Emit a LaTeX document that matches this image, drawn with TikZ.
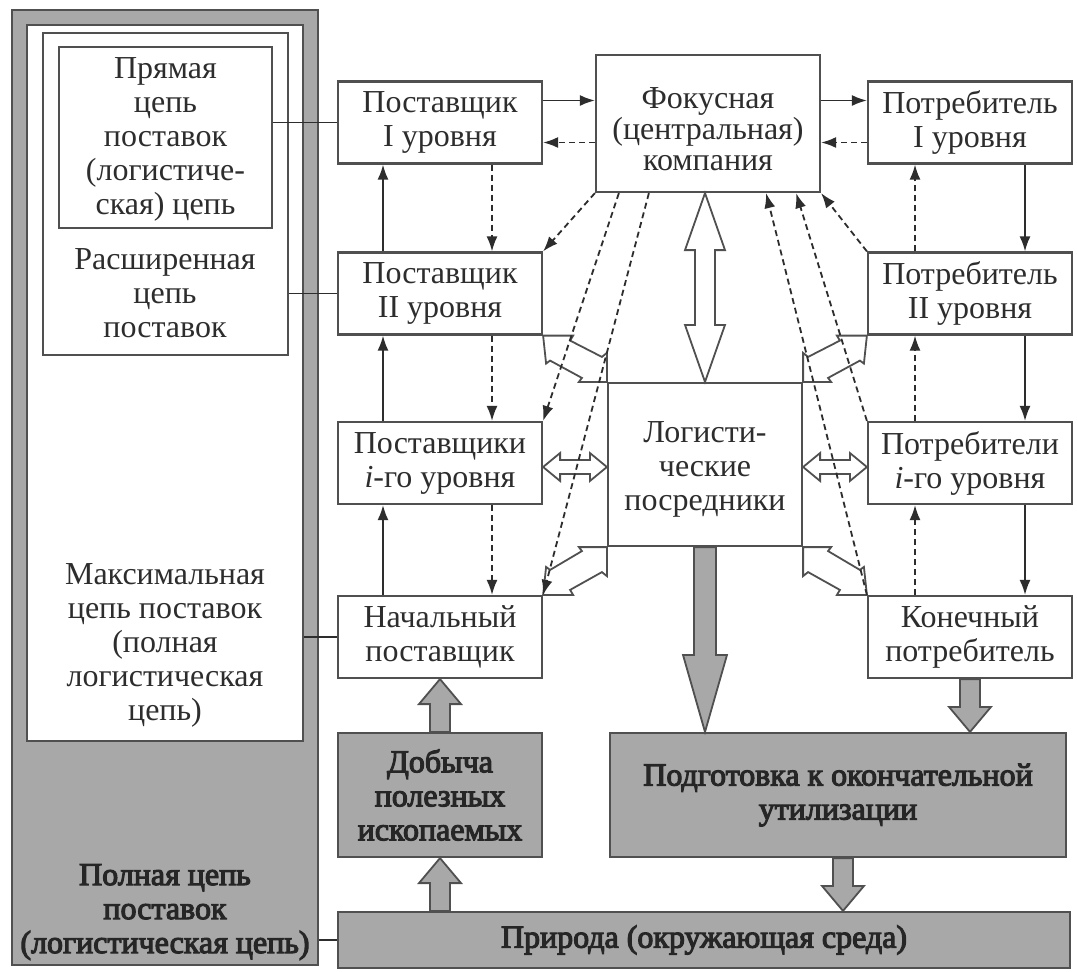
\documentclass[tikz,border=0pt]{standalone}
\usepackage{fontspec}
\setmainfont{Liberation Serif}
\newfontfamily\heavyserif[FakeBold=3.5]{Liberation Serif}
\usetikzlibrary{arrows.meta,calc}

\definecolor{ink}{RGB}{45,45,45}
\definecolor{edge}{RGB}{80,80,80}
\definecolor{shade}{RGB}{168,168,168}

\tikzset{
  txt/.style={font=\fontsize{32}{34}\selectfont, text=ink, align=center, inner sep=0pt},
  boldtxt/.style={txt, font=\fontsize{32}{34}\heavyserif, text=black!85},
  frame/.style={draw=edge, line width=2pt, inner sep=0pt},
  box/.style={draw=edge, line width=2.2pt, fill=white, inner sep=0pt, txt},
  graybox/.style={box, fill=shade, boldtxt},
  link/.style={draw=ink, line width=1.8pt},
  flow/.style={link, -{Latex[length=15pt,width=11pt]}},
  back/.style={flow, dash pattern=on 6pt off 4pt},
  hollow/.style={draw=edge, line width=1.8pt, fill=white, line join=miter},
  heavy/.style={draw=edge, line width=1.8pt, fill=shade, line join=miter},
}

% double-headed hollow arrow: from, to, shaft half width, head half width, head length
\newcommand\dblarrow[5]{%
  \draw[hollow] (#1)
   -- ($(#1)!#5pt!(#2)!#4pt!90:(#2)$)
   -- ($(#1)!#5pt!(#2)!#3pt!90:(#2)$)
   -- ($(#2)!#5pt!(#1)!#3pt!-90:(#1)$)
   -- ($(#2)!#5pt!(#1)!#4pt!-90:(#1)$)
   -- (#2)
   -- ($(#2)!#5pt!(#1)!#4pt!90:(#1)$)
   -- ($(#2)!#5pt!(#1)!#3pt!90:(#1)$)
   -- ($(#1)!#5pt!(#2)!#3pt!-90:(#2)$)
   -- ($(#1)!#5pt!(#2)!#4pt!-90:(#2)$)
   -- cycle;}

% single-headed grey block arrow: tail, tip, shaft half width, head half width, head length
\newcommand\fatarrow[5]{%
  \draw[heavy] ($(#1)!#3pt!90:(#2)$)
   -- ($(#2)!#5pt!(#1)!#3pt!-90:(#1)$)
   -- ($(#2)!#5pt!(#1)!#4pt!-90:(#1)$)
   -- (#2)
   -- ($(#2)!#5pt!(#1)!#4pt!90:(#1)$)
   -- ($(#2)!#5pt!(#1)!#3pt!90:(#1)$)
   -- ($(#1)!#3pt!-90:(#2)$)
   -- cycle;}

% diagonal hollow double arrow between two box corners: level box corner, intermediaries corner, x sign, y sign
\newcommand\cornerarrow[4]{%
  \draw[hollow] (#1)
   -- ($(#1)+({#3*30},0)$)
   -- ($(#1)+({#3*27},{#4*5})$)
   -- ($(#2)+({#3*(-5)},{#4*(-25)})$)
   -- ($(#2)+(0,{#4*(-29)})$)
   -- (#2)
   -- ($(#2)+({#3*(-28)},0)$)
   -- ($(#2)+({#3*(-25)},{#4*(-4)})$)
   -- ($(#1)+({#3*7},{#4*25})$)
   -- ($(#1)+({#3*3},{#4*28})$)
   -- cycle;}

\begin{document}
\begin{tikzpicture}[x=1pt,y=-1pt]
\useasboundingbox[fill=white] (0,0) rectangle (1077,972);

% nested chain frames on the left
\node[frame, fill=shade, minimum width=306pt, minimum height=955pt] (pfull) at (165,487.5) {};
\node[frame, fill=white, minimum width=276pt, minimum height=716pt] (pmax) at (165,383) {};
\node[frame, fill=white, minimum width=245pt, minimum height=322pt] (pext) at (165,194) {};
\node[frame, fill=white, minimum width=213pt, minimum height=181pt] (pdir) at (165.5,137.5) {};

\node[txt] (tdir) at (165.5,139) {Прямая\\цепь\\поставок\\(логистиче-\\ская) цепь};
\node[txt] (text) at (165,293) {Расширенная\\цепь\\поставок};
\node[txt] (tmax) at (165,645) {Максимальная\\цепь поставок\\(полная\\логистическая\\цепь)};
\node[boldtxt] (tfull) at (165,912) {Полная цепь\\поставок\\(логистическая цепь)};

% suppliers
\node[box, minimum width=204pt, minimum height=82pt] (s1) at (440,122.5) {Поставщик\\I уровня};
\node[box, minimum width=204pt, minimum height=82pt] (s2) at (440,293.5) {Поставщик\\II уровня};
\node[box, minimum width=204pt, minimum height=82pt] (s3) at (440,463) {Поставщики\\\textit{i}-го уровня};
\node[box, minimum width=204pt, minimum height=82pt] (s4) at (440,637) {Начальный\\поставщик};

% consumers
\node[box, minimum width=204pt, minimum height=82pt] (c1) at (970,122.5) {Потребитель\\I уровня};
\node[box, minimum width=204pt, minimum height=82pt] (c2) at (970,293.5) {Потребитель\\II уровня};
\node[box, minimum width=204pt, minimum height=82pt] (c3) at (970,463) {Потребители\\\textit{i}-го уровня};
\node[box, minimum width=204pt, minimum height=82pt] (c4) at (970,637) {Конечный\\потребитель};

% centre
\node[box, minimum width=224pt, minimum height=137pt] (foc) at (708,123.5) {};
\node[txt, font=\fontsize{32}{31}\selectfont] (foct) at (708,129) {Фокусная\\(центральная)\\компания};
\node[box, minimum width=194pt, minimum height=163pt] (lg) at (705,464.5) {};
\node[txt] (lgt) at (705,469) {Логисти-\\ческие\\посредники};

% bottom row
\node[graybox, minimum width=204pt, minimum height=124pt] (mine) at (440,795) {Добыча\\полезных\\ископаемых};
\node[graybox, minimum width=456pt, minimum height=124pt] (prep) at (838,795) {Подготовка к окончательной\\утилизации};
\node[graybox, minimum width=732pt, minimum height=56pt] (nat) at (704,940) {Природа (окружающая среда)};

% frames to the levels they describe
\draw[link] (pdir.east |- s1.west) -- (s1.west);
\draw[link] (pext.east |- s2.west) -- (s2.west);
\draw[link] (pmax.east |- s4.west) -- (s4.west);
\draw[link] (pfull.east |- nat.west) -- (nat.west);

% hollow exchange arrows around the intermediaries
\coordinate (vtop) at (lg.north |- foc.south);
\dblarrow{vtop}{lg.north}{10}{20}{57}
\coordinate (hl) at ([yshift=-4pt]s3.east);
\coordinate (hr) at ([yshift=-4pt]c3.west);
\coordinate (hlx) at (hl -| lg.west);
\coordinate (hrx) at (hr -| lg.east);
\dblarrow{hl}{hlx}{7}{14}{17}
\dblarrow{hr}{hrx}{7}{14}{17}
\cornerarrow{s2.south east}{lg.north west}{1}{1}
\cornerarrow{c2.south west}{lg.north east}{-1}{1}
\cornerarrow{s4.north east}{lg.south west}{1}{-1}
\cornerarrow{c4.north west}{lg.south east}{-1}{-1}

% grey material flows
\coordinate (g1) at (lg.south |- prep.north);
\fatarrow{lg.south}{g1}{11}{22}{77}
\coordinate (g2) at (c4.south |- prep.north);
\fatarrow{c4.south}{g2}{10}{21}{25}
\coordinate (g3) at ([xshift=5pt]prep.south |- nat.north);
\coordinate (g3s) at ([xshift=5pt]prep.south);
\fatarrow{g3s}{g3}{10}{21}{25}
\coordinate (g4) at (mine.south |- nat.north);
\fatarrow{g4}{mine.south}{10}{21}{25}
\fatarrow{mine.north}{s4.south}{10}{21}{25}

% flows between the focal company and first-level partners
\coordinate (a1) at ([yshift=22pt]s1.east);
\coordinate (a2) at ([yshift=-20pt]foc.west |- s1.east);
\draw[flow] (a1) -- (a1 -| foc.west);
\draw[back] (a2) -- (a2 -| s1.east);
\coordinate (a3) at ([yshift=22pt]foc.east |- c1.west);
\coordinate (a4) at ([yshift=-20pt]c1.west);
\draw[flow] (a3) -- (a3 -| c1.west);
\draw[back] (a4) -- (a4 -| foc.east);

% supplier column
\foreach \lo/\hi in {s2/s1, s3/s2, s4/s3}{
  \coordinate (u) at ([xshift=-57pt]\lo.north);
  \draw[flow] (u) -- (u |- \hi.south);
  \coordinate (d) at ([xshift=52pt]\hi.south);
  \draw[back] (d) -- (d |- \lo.north);
}

% consumer column
\foreach \lo/\hi in {c2/c1, c3/c2, c4/c3}{
  \coordinate (d) at ([xshift=55pt]\hi.south);
  \draw[flow] (d) -- (d |- \lo.north);
  \coordinate (u) at ([xshift=-55pt]\lo.north);
  \draw[back] (u) -- (u |- \hi.south);
}

% information flows from and to the focal company
\draw[back] (foc.south west) -- (s2.north east);
\draw[back] ([xshift=24pt]foc.south west) -- (s3.north east);
\draw[back] ([xshift=54pt]foc.south west) -- (s4.north east);
\draw[back] (c2.north west) -- (foc.south east);
\draw[back] (c3.north west) -- ([xshift=-25pt]foc.south east);
\draw[back] (c4.north west) -- ([xshift=-55pt]foc.south east);
\end{tikzpicture}
\end{document}
